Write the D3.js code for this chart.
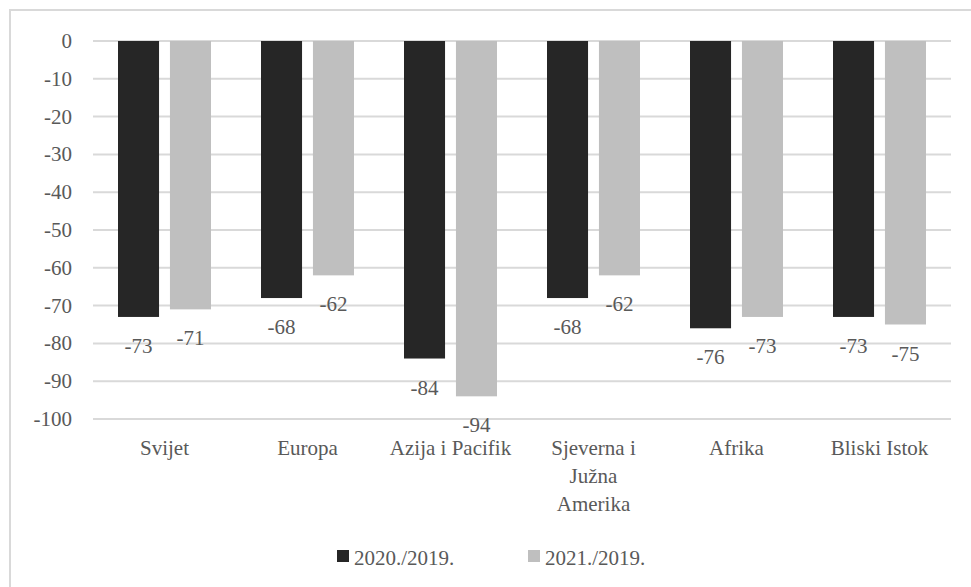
<!DOCTYPE html>
<html>
<head>
<meta charset="utf-8">
<script src="https://cdn.jsdelivr.net/npm/d3@7"></script>
</head>
<body style="margin:0">
<svg id="chart" width="971" height="587"></svg>
<script>
var categories = ['Svijet', 'Europa', 'Azija i Pacifik', 'Sjeverna i|Južna|Amerika', 'Afrika', 'Bliski Istok'];
var seriesNames = ['2020./2019.', '2021./2019.'];
var values2020 = [-73, -68, -84, -68, -76, -73];
var values2021 = [-71, -62, -94, -62, -73, -75];
var yTicks = [0, -10, -20, -30, -40, -50, -60, -70, -80, -90, -100];
var colors = ['#262626', '#bfbfbf'];

(function() {

	'use strict';

	var svg = d3.select('#chart'),
		left = 93,
		right = 951,
		top = 41,
		bottom = 419;

	// same text look everywhere
	var font = function(sel) {
		sel.style('font-family', '"Liberation Serif"')
			.attr('font-size', 21)
			.style('fill', '#595959');
	};

	// frame of the chart area (right and bottom sides are cut in the original)
	svg.append('path')
		.attr('d', 'M10,600 L10,10 L980,10')
		.attr('fill', 'none')
		.attr('stroke', '#d9d9d9')
		.attr('stroke-width', 2);

	var x0 = d3.scaleBand()
		.domain(categories)
		.range([left, right]);

	var x1 = d3.scaleBand()
		.domain(d3.range(seriesNames.length))
		.range([25, x0.bandwidth() - 25])
		.paddingInner(0.21);

	var y = d3.scaleLinear()
		.domain([0, -100])
		.range([top, bottom]);

	var bars = [];
	categories.forEach(function(c, i) {
		[values2020[i], values2021[i]].forEach(function(v, s) {
			bars.push({ cat: c, s: s, v: v });
		});
	});

	var barX = function(d) { return x0(d.cat) + x1(d.s); };

	// gridlines
	svg.selectAll('.grid')
		.data(yTicks)
		.enter()
		.append('line')
		.attr('class', 'grid')
		.attr('x1', left)
		.attr('x2', right)
		.attr('y1', function(d) { return y(d); })
		.attr('y2', function(d) { return y(d); })
		.attr('stroke', '#d9d9d9')
		.attr('stroke-width', 2);

	// y labels
	svg.selectAll('.ytick')
		.data(yTicks)
		.enter()
		.append('text')
		.attr('class', 'ytick')
		.call(font)
		.attr('x', left - 21)
		.attr('y', function(d) { return y(d) + 7; })
		.attr('text-anchor', 'end')
		.text(function(d) { return d; });

	svg.selectAll('.bar')
		.data(bars)
		.enter()
		.append('rect')
		.attr('class', 'bar')
		.attr('x', barX)
		.attr('y', y(0))
		.attr('width', x1.bandwidth())
		.attr('height', function(d) { return y(d.v) - y(0); })
		.attr('fill', function(d) { return colors[d.s]; });

	svg.selectAll('.val')
		.data(bars)
		.enter()
		.append('text')
		.attr('class', 'val')
		.call(font)
		.attr('x', function(d) { return barX(d) + x1.bandwidth() / 2; })
		.attr('y', function(d) { return y(d.v) + 36; })
		.attr('text-anchor', 'middle')
		.text(function(d) { return d.v; });

	// category labels, '|' splits lines
	var lines = [];
	categories.forEach(function(c) {
		c.split('|').forEach(function(t, k) {
			lines.push({ cat: c, k: k, t: t });
		});
	});

	svg.selectAll('.cat')
		.data(lines)
		.enter()
		.append('text')
		.attr('class', 'cat')
		.call(font)
		.attr('x', function(d) { return x0(d.cat) + x0.bandwidth() / 2; })
		.attr('y', function(d) { return bottom + 36 + d.k * 28; })
		.attr('text-anchor', 'middle')
		.text(function(d) { return d.t; });

	// legend
	svg.selectAll('.lkey')
		.data(seriesNames)
		.enter()
		.append('rect')
		.attr('class', 'lkey')
		.attr('x', function(d, i) { return 337 + i * 191; })
		.attr('y', 550)
		.attr('width', 12)
		.attr('height', 12)
		.attr('fill', function(d, i) { return colors[i]; });

	svg.selectAll('.ltext')
		.data(seriesNames)
		.enter()
		.append('text')
		.attr('class', 'ltext')
		.call(font)
		.attr('x', function(d, i) { return 354 + i * 191; })
		.attr('y', 565)
		.text(function(d) { return d; });

})();
</script>
</body>
</html>
